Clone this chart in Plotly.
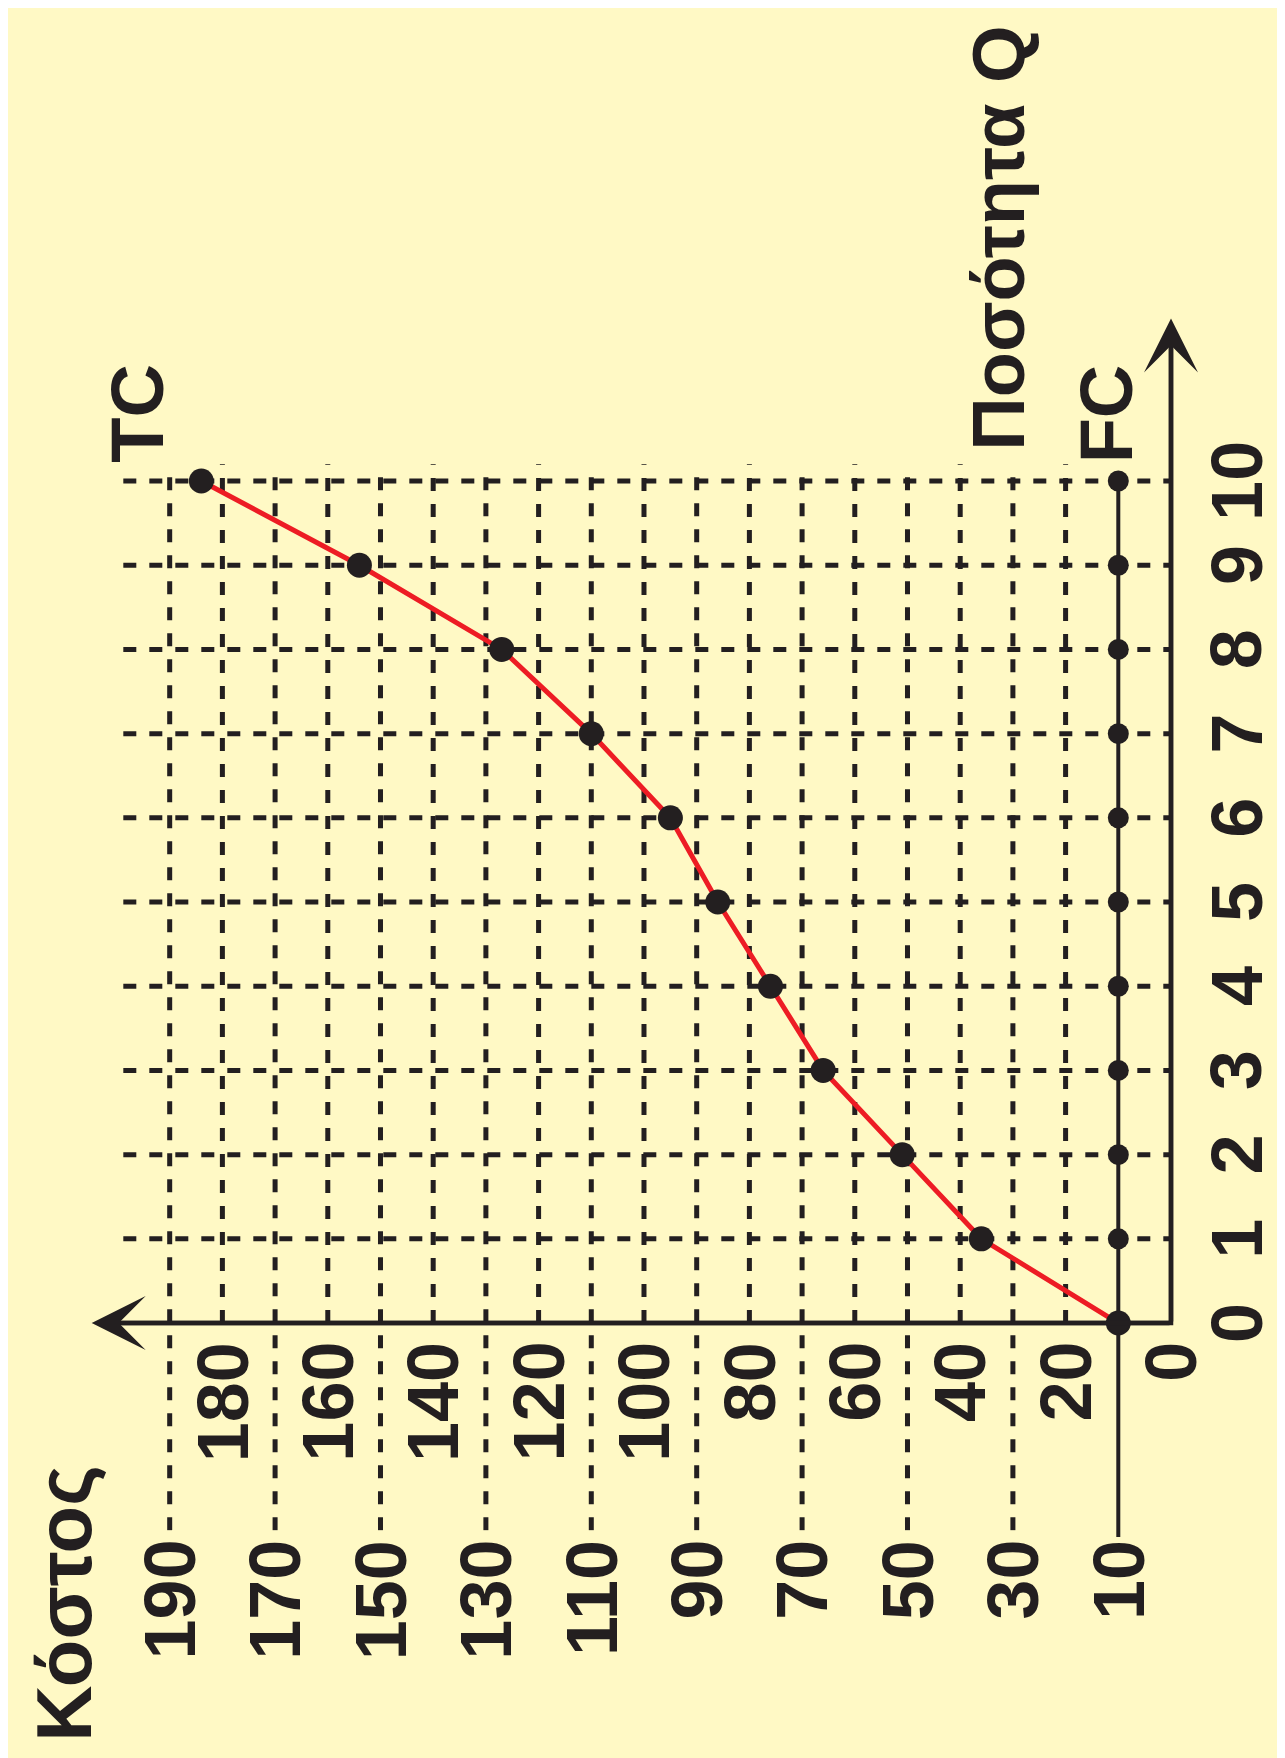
import plotly.graph_objects as go

# ── Data (the chart is drawn turned 90° counter-clockwise) ──────────────
quantity = [0, 1, 2, 3, 4, 5, 6, 7, 8, 9, 10]
total_cost = [10, 36, 51, 66, 76, 86, 95, 110, 127, 154, 184]
fixed_cost = [10, 10, 10, 10, 10, 10, 10, 10, 10, 10, 10]

cost_ticks_even = [0, 20, 40, 60, 80, 100, 120, 140, 160, 180]
cost_ticks_odd = [10, 30, 50, 70, 90, 110, 130, 150, 170, 190]
q_ticks = [0, 1, 2, 3, 4, 5, 6, 7, 8, 9, 10]

INK = "#231F20"
RED = "#ED1C24"
BG = "#FFF9C5"
FONT = "Liberation Sans"

# plot x = cost (reversed, grows to the left), plot y = quantity
COST_MIN, COST_MAX = -23.15, 220.68
Q_MIN, Q_MAX = -5.261, 15.618

GRID_LEFT = 198.8      # horizontal grid lines reach this cost
GRID_TOP = 10.2        # vertical grid lines reach this quantity
ODD_BOTTOM = -2.46     # odd cost lines continue below the axis
COST_TIP = 204.8
Q_TIP = 11.93

fig = go.Figure()

# ── Dashed grid ─────────────────────────────────────────────────────────
gx, gy = [], []
for q in q_ticks[1:]:
    gx.extend([GRID_LEFT, 0, None])
    gy.extend([q, q, None])
for c in cost_ticks_even[1:]:
    gx.extend([c, c, None])
    gy.extend([0, GRID_TOP, None])
for c in cost_ticks_odd[1:]:
    gx.extend([c, c, None])
    gy.extend([ODD_BOTTOM, GRID_TOP, None])

fig.add_trace(go.Scatter(
    x=gx, y=gy, mode="lines",
    line=dict(color=INK, width=5, dash="13px,13px"),
    hoverinfo="skip",
))

# ── FC line (solid, runs down to its label) ────────────────────────────
fig.add_trace(go.Scatter(
    x=[fixed_cost[0]] + fixed_cost,
    y=[ODD_BOTTOM - 0.08] + quantity,
    mode="lines",
    line=dict(color=INK, width=4),
    hoverinfo="skip",
))

# ── Axes (L shape) ──────────────────────────────────────────────────────
fig.add_trace(go.Scatter(
    x=[COST_TIP - 4, 0, 0],
    y=[0, 0, Q_TIP - 0.3],
    mode="lines",
    line=dict(color=INK, width=4.5),
    hoverinfo="skip",
))

# ── TC curve ────────────────────────────────────────────────────────────
fig.add_trace(go.Scatter(
    x=total_cost, y=quantity, mode="lines",
    line=dict(color=RED, width=5),
    hoverinfo="skip",
))
fig.add_trace(go.Scatter(
    x=total_cost, y=quantity, mode="markers",
    marker=dict(color=INK, size=25),
    hoverinfo="skip",
))
fig.add_trace(go.Scatter(
    x=fixed_cost, y=quantity, mode="markers",
    marker=dict(color=INK, size=21),
    hoverinfo="skip",
))

# ── Arrow heads ─────────────────────────────────────────────────────────
arrow = dict(text="", showarrow=True, arrowhead=3, arrowsize=2.0,
             arrowwidth=4.5, arrowcolor=INK, xref="x", yref="y",
             axref="x", ayref="y")
fig.add_annotation(x=COST_TIP, y=0, ax=0, ay=0, **arrow)
fig.add_annotation(x=0, y=Q_TIP, ax=0, ay=0, **arrow)

# ── Tick labels (rotated) ───────────────────────────────────────────────
tick_font = dict(family=FONT, size=72, color=INK)
for c in cost_ticks_even:
    fig.add_annotation(x=c, y=-0.2, text=f"<b>{c}</b>", showarrow=False,
                       textangle=-90, xanchor="center", yanchor="top",
                       font=tick_font)
for c in cost_ticks_odd:
    fig.add_annotation(x=c, y=-2.55, text=f"<b>{c}</b>", showarrow=False,
                       textangle=-90, xanchor="center", yanchor="top",
                       font=tick_font)
for q in q_ticks:
    fig.add_annotation(x=-12.5, y=q, text=f"<b>{q}</b>", showarrow=False,
                       textangle=-90, xanchor="center", yanchor="middle",
                       font=tick_font)

# ── Titles ──────────────────────────────────────────────────────────────
title_font = dict(family=FONT, size=74, color=INK)
fig.add_annotation(x=196.0, y=10.8, text="<b>TC</b>", showarrow=False,
                   textangle=-90, font=title_font)
fig.add_annotation(x=12.2, y=10.8, text="<b>FC</b>", showarrow=False,
                   textangle=-90, font=title_font)
fig.add_annotation(x=32.8, y=12.88, text="<b>Ποσότητα Q</b>", showarrow=False,
                   textangle=-90, font=title_font)
fig.add_annotation(x=210.0, y=-3.33, text="<b>Κόστος</b>", showarrow=False,
                   textangle=-90, font=dict(family=FONT, size=78, color=INK))

# ── Background panel ────────────────────────────────────────────────────
fig.add_shape(type="rect", xref="paper", yref="paper",
              x0=0, x1=1, y0=0, y1=1,
              fillcolor=BG, line=dict(width=0), layer="below")

fig.update_layout(
    width=1285,
    height=1758,
    paper_bgcolor="white",
    plot_bgcolor="rgba(0,0,0,0)",
    showlegend=False,
    margin=dict(l=0, r=0, t=0, b=0),
    xaxis=dict(range=[COST_MAX, COST_MIN], visible=False, fixedrange=True),
    yaxis=dict(range=[Q_MIN, Q_MAX], visible=False, fixedrange=True),
)

fig.write_html("out.html")
